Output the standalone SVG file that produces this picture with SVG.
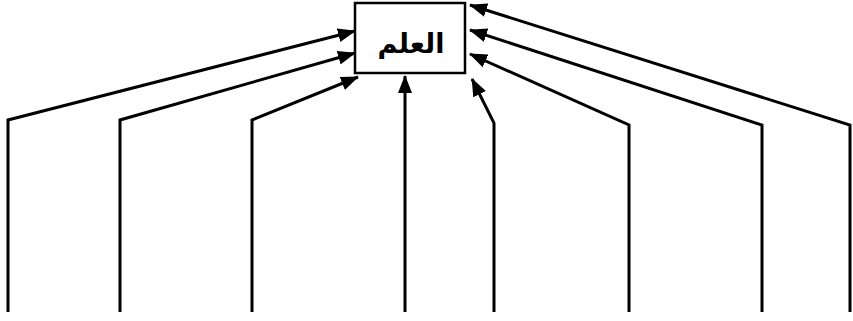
<svg xmlns="http://www.w3.org/2000/svg" width="853" height="321" viewBox="0 0 853 321">
<defs>
<marker id="ah" viewBox="0 0 18 14" refX="17" refY="7" markerWidth="18" markerHeight="14" markerUnits="userSpaceOnUse" orient="auto">
<path d="M0,0 L18,7 L0,14 Z" fill="#000"/>
</marker>
<style>
.c{fill:none;stroke:#000;stroke-width:3;stroke-linejoin:miter;marker-end:url(#ah)}
.box{fill:#fff;stroke:#000;stroke-width:2.5}
.t{font-family:"DejaVu Sans","Liberation Serif",serif;font-size:27px;font-weight:bold;text-anchor:middle}
</style>
</defs>
<rect width="853" height="321" fill="#fff"/>
<g id="connectors">
<polyline class="c" points="8,312 8,120 355,31"/>
<polyline class="c" points="120,312 120,120 355,53"/>
<polyline class="c" points="252,312 252,120 358,77"/>
<polyline class="c" points="405,312 405,76"/>
<polyline class="c" points="494,312 494,123 472,79"/>
<polyline class="c" points="629,312 629,125 470,54"/>
<polyline class="c" points="762,312 762,125 470,30"/>
<polyline class="c" points="850,312 850,125 470,5"/>
</g>
<g id="node-science">
<rect class="box" x="355" y="3" width="110" height="70"/>
<text class="t" x="411" y="53">العلم</text>
</g>
</svg>
